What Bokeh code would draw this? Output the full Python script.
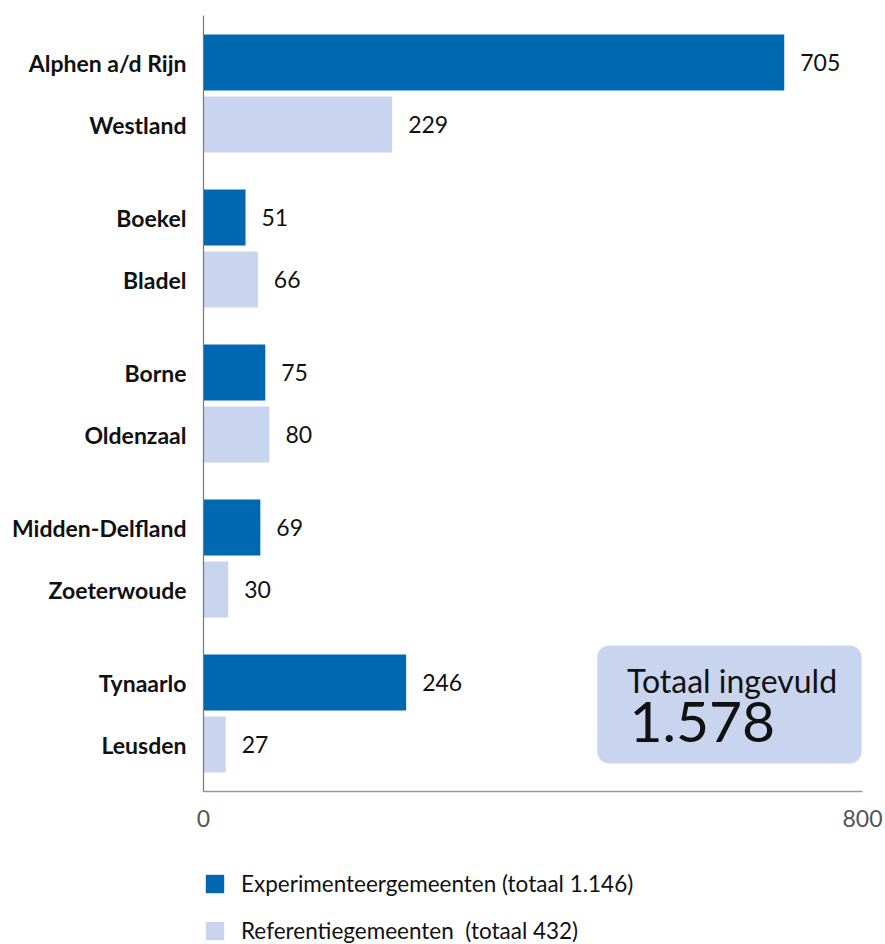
from bokeh.plotting import figure
from bokeh.layouts import column
from bokeh.models import (Range1d, FixedTicker, ColumnDataSource, Legend, LegendItem,
                          BoxAnnotation, Label)
from bokeh.core.properties import value
from bokeh.embed import file_html
from bokeh.resources import INLINE

# ---- data ----
exp_names = ["Alphen a/d Rijn", "Boekel", "Borne", "Midden-Delfland", "Tynaarlo"]
exp_values = [705, 51, 75, 69, 246]
ref_names = ["Westland", "Bladel", "Oldenzaal", "Zoeterwoude", "Leusden"]
ref_values = [229, 66, 80, 30, 27]
x_ticks = [0, 800]
legend_labels = ["Experimenteergemeenten (totaal 1.146)", "Referentiegemeenten  (totaal 432)"]
total_title = "Totaal ingevuld"
total_value = "1.578"

# ---- layout constants ----
DARK = "#0067b1"
LIGHT = "#c9d5ee"
FONT = "Lato"
GROUP_STEP = 155
PAIR_STEP = 62
FIRST = 47
BAR_H = 56

exp_y = [FIRST + i * GROUP_STEP for i in range(len(exp_names))]
ref_y = [FIRST + i * GROUP_STEP + PAIR_STEP for i in range(len(ref_names))]

p = figure(width=885, height=850, output_backend="svg", toolbar_location=None,
           x_range=Range1d(0, 800), y_range=Range1d(776, 0),
           min_border_left=203, min_border_right=23, min_border_top=15, min_border_bottom=59)
p.outline_line_color = None
p.grid.visible = False
p.background_fill_color = "white"

src_e = ColumnDataSource(dict(y=exp_y, v=exp_values, t=[str(v) for v in exp_values]))
src_r = ColumnDataSource(dict(y=ref_y, v=ref_values, t=[str(v) for v in ref_values]))

p.hbar(y="y", right="v", left=0, height=BAR_H, source=src_e, fill_color=DARK, line_color=None)
p.hbar(y="y", right="v", left=0, height=BAR_H, source=src_r, fill_color=LIGHT, line_color=None)

for src in (src_e, src_r):
    p.text(x="v", y="y", text="t", source=src, x_offset=16, text_baseline="middle",
           text_align="left", text_font=value(FONT), text_font_size="23px", text_color="#111111")

# axes
xa = p.xaxis[0]
xa.ticker = FixedTicker(ticks=x_ticks)
xa.major_tick_line_color = None
xa.minor_tick_line_color = None
xa.axis_line_color = "#9a9a9a"
xa.axis_line_width = 1.5
xa.major_label_text_font = FONT
xa.major_label_text_font_size = "23px"
xa.major_label_text_color = "#555555"
xa.major_label_standoff = 12

ya = p.yaxis[0]
ya.ticker = FixedTicker(ticks=exp_y + ref_y)
ya.major_label_overrides = {y: n for y, n in zip(exp_y + ref_y, exp_names + ref_names)}
ya.major_tick_line_color = None
ya.minor_tick_line_color = None
ya.axis_line_color = "#777777"
ya.axis_line_width = 1.2
ya.major_label_text_font = FONT
ya.major_label_text_font_style = "bold"
ya.major_label_text_font_size = "23px"
ya.major_label_text_color = "#111111"
ya.major_label_standoff = 11

# total box
p.add_layout(BoxAnnotation(left=478, right=799, top=630, bottom=748, fill_color=LIGHT,
                           fill_alpha=1, line_color=None, border_radius=12))
p.add_layout(Label(x=514, y=665, text=total_title, text_font=FONT, text_font_size="32px",
                   text_baseline="middle", text_color="#111111"))
p.add_layout(Label(x=517, y=706, text=total_value, text_font=FONT, text_font_size="57px",
                   text_baseline="middle", text_color="#111111"))

# ---- legend figure below ----
lg = figure(width=885, height=94, output_backend="svg", toolbar_location=None,
            x_range=Range1d(0, 1), y_range=Range1d(0, 1),
            x_axis_location=None, y_axis_location=None,
            min_border_left=0, min_border_right=0, min_border_top=0, min_border_bottom=0)
lg.outline_line_color = None
lg.grid.visible = False
# legend-only renderers, placed outside the visible range
off = ColumnDataSource(dict(y=[5], r=[5]))
d_e = lg.hbar(y="y", right="r", left=4, height=0.1, source=off, fill_color=DARK, line_color=None)
d_r = lg.hbar(y="y", right="r", left=4, height=0.1, source=off, fill_color=LIGHT, line_color=None)
legend = Legend(items=[LegendItem(label=legend_labels[0], renderers=[d_e]),
                       LegendItem(label=legend_labels[1], renderers=[d_r])],
                location=(0, 0), orientation="vertical",
                glyph_width=23, glyph_height=23, label_height=23, spacing=20,
                label_standoff=15, padding=1, margin=0,
                label_text_font=FONT, label_text_font_size="22.5px", label_text_color="#111111",
                border_line_color=None, background_fill_alpha=0)
lg.add_layout(legend)

open("out.html", "w").write(file_html(column(p, lg, spacing=0), INLINE))
